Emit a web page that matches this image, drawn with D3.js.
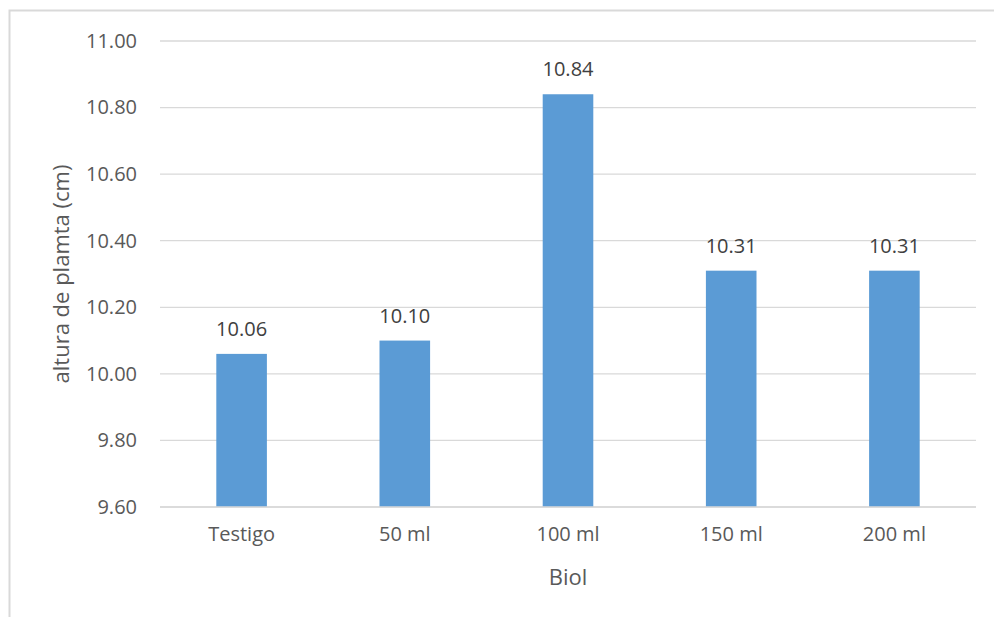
<!DOCTYPE html>
<html>
<head>
<meta charset="utf-8">
<script src="https://cdn.jsdelivr.net/npm/d3@7"></script>
<style>
  html, body { margin: 0; padding: 0; background: #fff; }
  svg { display: block; font-family: "Open Sans", "Noto Sans", sans-serif; }
</style>
</head>
<body>
<svg id="chart" width="994" height="617"></svg>
<script>
// Plant height (cm) by biol dose
const categories = ["Testigo", "50 ml", "100 ml", "150 ml", "200 ml"];
const heights = [10.06, 10.10, 10.84, 10.31, 10.31];
const yTicks = [9.60, 9.80, 10.00, 10.20, 10.40, 10.60, 10.80, 11.00];

const svg = d3.select("#chart");
const W = 994, H = 617;
const plot = { left: 160, right: 976, top: 41, bottom: 507 };

// outer frame of the chart area
svg.append("rect")
  .attr("x", 9.5).attr("y", 10.5)
  .attr("width", W + 20).attr("height", H + 20)
  .attr("fill", "#fff").attr("stroke", "#d9d9d9").attr("stroke-width", 2);

const x = d3.scaleBand()
  .domain(categories)
  .range([plot.left, plot.right])
  .paddingInner(0.69)
  .paddingOuter(0.345);

const y = d3.scaleLinear()
  .domain([9.6, 11.0])
  .range([plot.bottom, plot.top]);

// horizontal gridlines
svg.append("g")
  .selectAll("line")
  .data(yTicks)
  .join("line")
  .attr("x1", plot.left).attr("x2", plot.right)
  .attr("y1", d => y(d)).attr("y2", d => y(d))
  .attr("stroke", "#d9d9d9").attr("stroke-width", 1.3);

// y axis tick labels
const yAxis = d3.axisLeft(y)
  .tickValues(yTicks)
  .tickFormat(d3.format(".2f"))
  .tickSize(0)
  .tickPadding(23);
const gy = svg.append("g")
  .attr("transform", `translate(${plot.left},0)`)
  .call(yAxis);
gy.select(".domain").remove();
gy.selectAll("text")
  .attr("fill", "#595959")
  .style("font-size", "20px")
  .style("font-family", "'Open Sans', sans-serif");

// bars
svg.append("g")
  .selectAll("rect")
  .data(categories)
  .join("rect")
  .attr("x", d => x(d))
  .attr("width", x.bandwidth())
  .attr("y", (d, i) => y(heights[i]))
  .attr("height", (d, i) => plot.bottom - y(heights[i]))
  .attr("fill", "#5b9bd5");

// x axis
const xAxis = d3.axisBottom(x).tickSize(0).tickPadding(20);
const gx = svg.append("g")
  .attr("transform", `translate(0,${plot.bottom})`)
  .call(xAxis);
gx.select(".domain").remove();
gx.selectAll("text")
  .attr("fill", "#595959")
  .style("font-size", "20px")
  .style("font-family", "'Open Sans', sans-serif");

// baseline axis line
svg.append("line")
  .attr("x1", plot.left).attr("x2", plot.right)
  .attr("y1", plot.bottom).attr("y2", plot.bottom)
  .attr("stroke", "#d9d9d9").attr("stroke-width", 1.3);

// value labels
svg.append("g")
  .selectAll("text")
  .data(categories)
  .join("text")
  .attr("x", d => x(d) + x.bandwidth() / 2)
  .attr("y", (d, i) => y(heights[i]) - 18)
  .attr("text-anchor", "middle")
  .attr("fill", "#404040")
  .style("font-size", "20px")
  .text((d, i) => d3.format(".2f")(heights[i]));

// axis titles
svg.append("text")
  .attr("transform", `translate(69,${(plot.top + plot.bottom) / 2}) rotate(-90)`)
  .attr("text-anchor", "middle")
  .attr("fill", "#595959")
  .style("font-size", "22px")
  .text("altura de plamta (cm)");

svg.append("text")
  .attr("x", (plot.left + plot.right) / 2)
  .attr("y", 585)
  .attr("text-anchor", "middle")
  .attr("fill", "#595959")
  .style("font-size", "22px")
  .text("Biol");
</script>
</body>
</html>
